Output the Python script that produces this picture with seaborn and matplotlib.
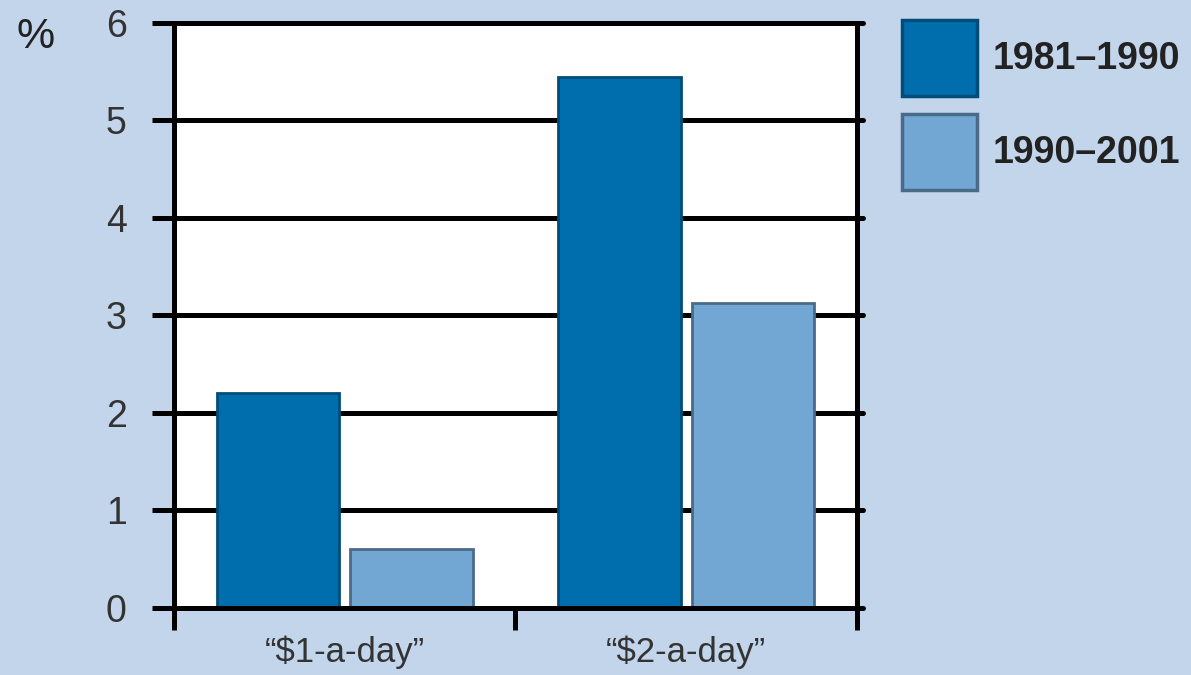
import numpy as np
import pandas as pd
import matplotlib
matplotlib.use("Agg")
import matplotlib.pyplot as plt
from matplotlib import ticker
import seaborn as sns

# datos
categorias = ['\u201c$1-a-day\u201d', '\u201c$2-a-day\u201d']
periodos = ['1981\u20131990', '1990\u20132001']
valores_8190 = [2.2, 5.45]
valores_9001 = [0.6, 3.13]
yticks = [0, 1, 2, 3, 4, 5, 6]

colores = ['#006eac', '#72a6d3']
bordes = ['#004d7a', '#4a6a8a']

df = pd.DataFrame({
    'categoria': categorias * 2,
    'periodo': [periodos[0]] * 2 + [periodos[1]] * 2,
    'valor': valores_8190 + valores_9001,
})

sns.set_style('white')
plt.rcParams['font.family'] = ['Liberation Sans', 'DejaVu Sans']

fig = plt.figure(figsize=(11.91, 6.75), dpi=100, facecolor='#c3d5ea')
ax = fig.add_axes([0.146, 0.0993, 0.5736, 0.8667])
ax.set_facecolor('white')

sns.barplot(data=df, x='categoria', y='valor', hue='periodo',
            order=categorias, hue_order=periodos, palette=colores,
            width=0.78, gap=0.08, linewidth=2, saturation=1,
            ax=ax, zorder=3)

for cont, ec in zip(ax.containers, bordes):
    for p in cont:
        p.set_edgecolor(ec)

ax.set_xlim(-0.5, 1.5)
ax.set_ylim(0, 6)
ax.set_yticks(yticks)
ax.set_xlabel('')
ax.set_ylabel('')

# lineas horizontales (se salen un poco a la derecha)
for v in yticks:
    ax.axhline(v, xmin=0, xmax=1.009, color='black', lw=3.6,
               clip_on=False, zorder=1)

for s in ['left', 'right', 'bottom', 'top']:
    ax.spines[s].set_visible(True)
    ax.spines[s].set_color('black')
    ax.spines[s].set_linewidth(3.6)
    ax.spines[s].set_zorder(4)

ax.tick_params(axis='y', which='major', left=True, length=16, width=3.6,
               pad=18, labelsize=27, labelcolor='#333333', color='black')
ax.tick_params(axis='x', which='major', length=0, pad=20,
               labelsize=25, labelcolor='#333333')
ax.xaxis.set_minor_locator(ticker.FixedLocator([-0.5, 0.5, 1.5]))
ax.tick_params(axis='x', which='minor', bottom=True, length=16, width=3.6,
               color='black', direction='out')

fig.text(0.014, 0.975, '%', fontsize=31, color='#222222', va='top', ha='left')

sns.move_legend(ax, 'upper left', bbox_to_anchor=(0.757, 0.971),
                bbox_transform=fig.transFigure, frameon=False, title=None,
                fontsize=27, handlelength=2.0, handleheight=2.75,
                labelspacing=0.48, handletextpad=0.42, borderpad=0,
                borderaxespad=0)
leg = ax.get_legend()
for h, ec in zip(leg.legend_handles, bordes):
    h.set_edgecolor(ec)
    h.set_linewidth(2.5)
for t in leg.get_texts():
    t.set_fontweight('bold')
    t.set_color('#222222')

plt.savefig('out.png', dpi=100, facecolor=fig.get_facecolor())
